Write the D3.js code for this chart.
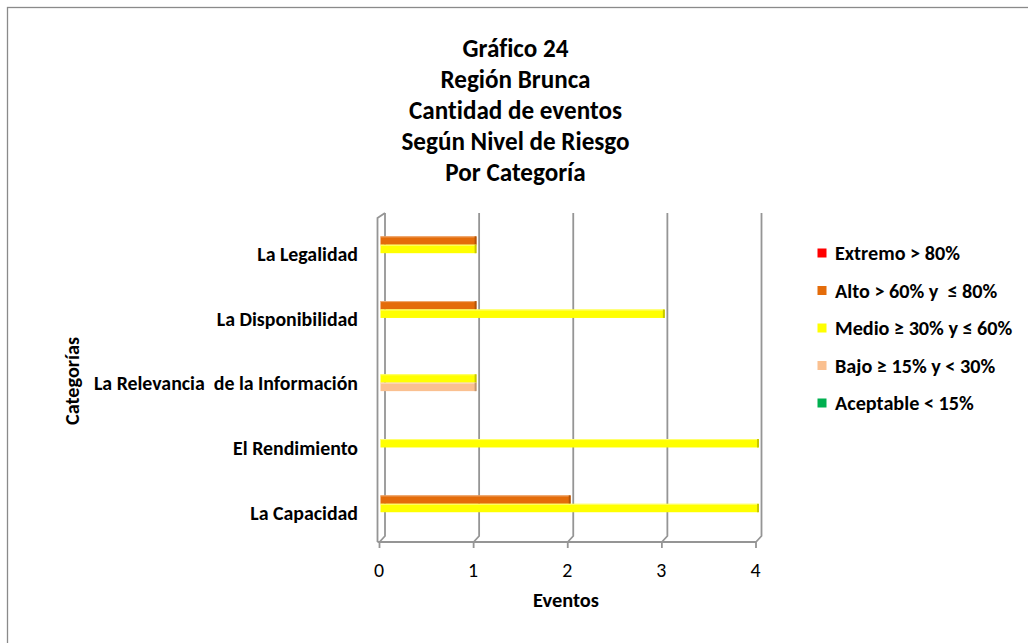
<!DOCTYPE html>
<html>
<head>
<meta charset="utf-8">
<script src="https://cdn.jsdelivr.net/npm/d3@7"></script>
<style>
  html, body { margin: 0; padding: 0; background: #fff; }
  svg { display: block; }
  text { white-space: pre; font-variant-ligatures: none; }
</style>
</head>
<body>
<svg id="chart" width="1028" height="643"></svg>
<script>
// ---------- data ----------
const titleLines = ["Gráfico 24", "Región Brunca", "Cantidad de eventos", "Según Nivel de Riesgo", "Por Categoría"];
const categories = ["La Legalidad", "La Disponibilidad", "La Relevancia  de la Información", "El Rendimiento", "La Capacidad"];
const seriesNames = ["Extremo > 80%", "Alto > 60% y  ≤ 80%", "Medio ≥ 30% y ≤ 60%", "Bajo ≥ 15% y < 30%", "Aceptable < 15%"];
const extremo   = [0, 0, 0, 0, 0];
const alto      = [1, 1, 0, 0, 2];
const medio     = [1, 3, 1, 4, 4];
const bajo      = [0, 0, 1, 0, 0];
const aceptable = [0, 0, 0, 0, 0];
const xTicks = [0, 1, 2, 3, 4];
const xTitle = "Eventos";
const yTitle = "Categorías";
const colors = ["#FF0000", "#E46C0A", "#FFFF00", "#FAC090", "#00B050"];

const seriesValues = [extremo, alto, medio, bajo, aceptable];

// ---------- setup ----------
const FONT = "Carlito, Calibri, Lato, 'Open Sans', sans-serif";
const svg = d3.select("#chart");

function fit(str, weight, target) {
  const t = svg.append("text").attr("font-family", FONT).attr("font-weight", weight)
    .attr("font-size", 100).text(str);
  const w = t.node().getComputedTextLength();
  t.remove();
  return 100 * target / w;
}
const titleFs = fit("Cantidad de eventos", "bold", 213);
const catFs = fit("El Rendimiento", "bold", 125);
const legFs = fit("Extremo > 80%", "bold", 125);
const xTitleFs = fit(xTitle, "bold", 66);
const yTitleFs = fit(yTitle, "bold", 88);
const tickFs = catFs * 1.0;
const CAP = 0.70;

// outer border
svg.append("rect").attr("x", 7.5).attr("y", 7.5).attr("width", 1040).attr("height", 660)
  .attr("fill", "none").attr("stroke", "#8a8a8a").attr("stroke-width", 1.3);

// title
svg.append("g").selectAll("text").data(titleLines).join("text")
  .attr("x", 515.5).attr("y", (d, i) => 57 + i * 30.9)
  .attr("text-anchor", "middle").attr("font-family", FONT).attr("font-weight", "bold")
  .attr("font-size", titleFs).attr("fill", "#000").text(d => d);

// scales
const x = d3.scaleLinear().domain([0, 4]).range([379.5, 756]);
const y = d3.scaleBand().domain(categories).range([216.6, 540.4]).paddingInner(0.35).paddingOuter(0.175);
const ys = d3.scaleBand().domain(seriesNames).range([0, y.bandwidth()]);

const DX = 5.5, DY = 6;          // depth of the 3D box
const wallTop = 213, floorY = 542;

// back wall gridlines
const grid = svg.append("g");
xTicks.forEach(v => {
  grid.append("path")
    .attr("d", `M${x(v) + DX},${wallTop} L${x(v) + DX},${floorY - DY} L${x(v)},${floorY}`)
    .attr("fill", "none").attr("stroke", "#959595").attr("stroke-width", 1.8);
});
// left wall outer edge
grid.append("path")
  .attr("d", `M${x(0) - 2},${floorY} L${x(0) - 2},${wallTop + 5} L${x(0) + DX},${wallTop}`)
  .attr("fill", "none").attr("stroke", "#959595").attr("stroke-width", 1.8);
// floor front edge
grid.append("line").attr("x1", x(0) - 2).attr("x2", x(4)).attr("y1", floorY).attr("y2", floorY)
  .attr("stroke", "#959595").attr("stroke-width", 1.8);
// ticks
grid.selectAll("line.tick").data(xTicks).join("line").attr("class", "tick")
  .attr("x1", d => x(d)).attr("x2", d => x(d)).attr("y1", floorY).attr("y2", floorY + 6)
  .attr("stroke", "#959595").attr("stroke-width", 1.8);

// bars
const darker = c => d3.color(c).darker(0.7).formatHex();
const lighter = c => d3.interpolateRgb(c, "#fff")(0.45);
const barsData = [];
seriesValues.forEach((vals, si) => {
  vals.forEach((v, ci) => {
    if (v > 0) barsData.push({ s: seriesNames[si], c: categories[ci], v, color: colors[si] });
  });
});
const bars = svg.append("g");
barsData.forEach(d => {
  const y0 = y(d.c) + ys(d.s), h = ys.bandwidth();
  const x0 = x(0) + 1, x1 = x(d.v) + 2.5;
  bars.append("rect").attr("x", x0).attr("y", y0).attr("width", x1 - x0).attr("height", h)
    .attr("fill", d.color);
  bars.append("rect").attr("x", x0).attr("y", y0).attr("width", x1 - x0).attr("height", 1)
    .attr("fill", lighter(d.color));
  bars.append("rect").attr("x", x1 - 1.5).attr("y", y0).attr("width", 2).attr("height", h)
    .attr("fill", darker(d.color));
});

// category labels
svg.append("g").selectAll("text").data(categories).join("text")
  .attr("x", 358).attr("y", d => y(d) + y.bandwidth() / 2 + 5 + CAP * catFs / 2)
  .attr("text-anchor", "end").attr("font-family", FONT).attr("font-weight", "bold")
  .attr("font-size", catFs).attr("fill", "#000").text(d => d);

// tick labels
svg.append("g").selectAll("text").data(xTicks).join("text")
  .attr("x", d => x(d) - 0.5).attr("y", 577)
  .attr("text-anchor", "middle").attr("font-family", FONT)
  .attr("font-size", tickFs).attr("fill", "#000").text(d => d);

// axis titles
svg.append("text").attr("x", 566).attr("y", 607).attr("text-anchor", "middle")
  .attr("font-family", FONT).attr("font-weight", "bold").attr("font-size", xTitleFs).text(xTitle);
svg.append("text").attr("transform", `translate(${72 + CAP * yTitleFs / 2},381) rotate(-90)`)
  .attr("text-anchor", "middle")
  .attr("font-family", FONT).attr("font-weight", "bold").attr("font-size", yTitleFs).text(yTitle);

// legend
const leg = svg.append("g");
seriesNames.forEach((s, i) => {
  const cy = 253 + i * 37.5;
  leg.append("rect").attr("x", 817.5).attr("y", cy - 4.5).attr("width", 9).attr("height", 9)
    .attr("fill", colors[i]);
  leg.append("text").attr("x", 835).attr("y", cy + CAP * legFs / 2)
    .attr("font-family", FONT).attr("font-weight", "bold").attr("font-size", legFs)
    .attr("fill", "#000").text(s);
});
</script>
</body>
</html>
